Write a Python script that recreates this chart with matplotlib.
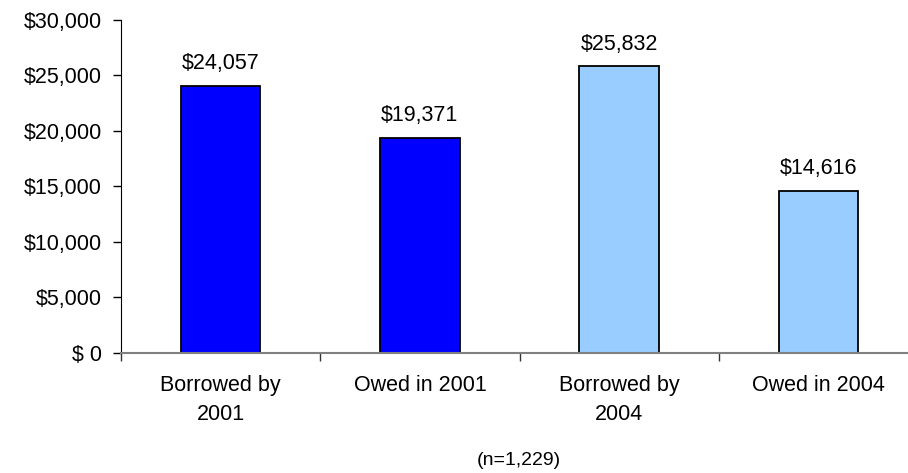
import matplotlib
matplotlib.use("Agg")
import matplotlib.pyplot as plt
from matplotlib.ticker import FixedLocator, FuncFormatter

plt.rcParams['font.family'] = ['Liberation Sans', 'DejaVu Sans']

categories = ["Borrowed by\n2001", "Owed in 2001", "Borrowed by\n2004", "Owed in 2004"]
amounts = [24057, 19371, 25832, 14616]
bar_colors = ["#0000FF", "#0000FF", "#99CCFF", "#99CCFF"]
sample_note = "(n=1,229)"
y_ticks = [0, 5000, 10000, 15000, 20000, 25000, 30000]

FS = 15.5
W, H = 908, 473
fig = plt.figure(figsize=(W / 100, H / 100), dpi=100)
left, right, bottom, top = 121, 918, 352.7, 20
ax = fig.add_axes([left / W, (H - bottom) / H, (right - left) / W, (bottom - top) / H])

x = list(range(len(categories)))
ax.bar(x, amounts, width=0.4, color=bar_colors, edgecolor="black",
       linewidth=1.3, zorder=3)
for xi, v in zip(x, amounts):
    ax.annotate(f"${v:,}", (xi, v), xytext=(0, 12), textcoords="offset points",
                ha="center", va="baseline", fontsize=FS)

ax.set_xlim(-0.5, len(categories) - 0.5)
ax.set_ylim(0, 30000)
ax.yaxis.set_major_locator(FixedLocator(y_ticks))
ax.yaxis.set_major_formatter(FuncFormatter(lambda v, p: "$ 0" if v == 0 else f"${int(v):,}"))
ax.set_xticks(x)
ax.set_xticklabels(categories, fontsize=FS, linespacing=1.5)
ax.tick_params(axis="x", length=0, pad=16)
ax.xaxis.set_minor_locator(FixedLocator([i - 0.5 for i in range(len(categories) + 1)]))
ax.tick_params(axis="x", which="minor", length=6, width=1, color="#333333")
ax.tick_params(axis="y", length=6, width=1, labelsize=FS, pad=8)

for s in ("top", "right"):
    ax.spines[s].set_visible(False)
ax.spines["left"].set_color("black")
ax.spines["bottom"].set_color("#808080")
ax.spines["bottom"].set_linewidth(1.5)
ax.spines["bottom"].set_zorder(4)

fig.text(519 / W, 1 - 460 / H, sample_note, ha="center", va="center", fontsize=14)

fig.savefig("out.png", dpi=100)
